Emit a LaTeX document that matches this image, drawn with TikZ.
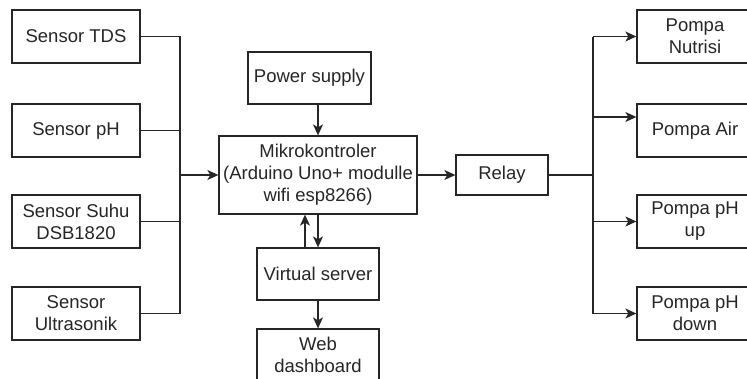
\documentclass[tikz,border=0pt]{standalone}
\usepackage{fontspec}
\setmainfont{Liberation Sans}
\usetikzlibrary{arrows.meta}
\begin{document}
\begin{tikzpicture}[x=1pt,y=-1pt,
  box/.style={draw=black!85,line width=1.3pt,align=center,inner sep=0pt,
    font=\fontsize{18.5}{22}\selectfont,text=black!85},
  conn/.style={draw=black!85,line width=1.3pt},
  arr/.style={conn,-{Stealth[length=11pt,width=10pt,inset=3pt]}}]
\useasboundingbox[fill=white] (0,0) rectangle (747,378);
\begin{scope}
\clip (0,0) rectangle (747,378);
% left sensors
\node[box,minimum width=128,minimum height=53] (tds) at (76,36.5) {Sensor TDS};
\node[box,minimum width=128,minimum height=53] (ph) at (76,130.5) {Sensor pH};
\node[box,minimum width=128,minimum height=53] (suhu) at (76,221.5) {Sensor Suhu\\DSB1820};
\node[box,minimum width=128,minimum height=53] (ultra) at (76,313.5) {Sensor\\Ultrasonik};
% center column
\node[box,minimum width=123,minimum height=52] (power) at (309.5,78) {Power supply};
\node[box,minimum width=198,minimum height=78] (mikro) at (318,175) {Mikrokontroler\\(Arduino Uno+ modulle\\wifi esp8266)};
\node[box,minimum width=122,minimum height=52] (vs) at (318,274) {Virtual server};
\node[box,minimum width=122,minimum height=52] (web) at (318,355) {Web\\dashboard};
% relay
\node[box,minimum width=92,minimum height=40] (relay) at (502,175) {Relay};
% pumps
\node[box,minimum width=116,minimum height=53] (nutrisi) at (695,36.5) {Pompa\\Nutrisi};
\node[box,minimum width=116,minimum height=53] (air) at (695,130.5) {Pompa Air};
\node[box,minimum width=116,minimum height=53] (up) at (695,221.5) {Pompa pH\\up};
\node[box,minimum width=116,minimum height=53] (down) at (695,313.5) {Pompa pH\\down};
% bus coordinates
\coordinate (lbus) at (180,175);
\coordinate (rbus) at (593,175);
% left bus
\draw[conn] (tds.east) -- (tds.east -| lbus) -- (ultra.east -| lbus) -- (ultra.east);
\draw[conn] (ph.east) -- (ph.east -| lbus);
\draw[conn] (suhu.east) -- (suhu.east -| lbus);
\draw[arr] (lbus) -- (mikro.west);
% center arrows
\draw[arr] (power.south -| mikro.north) -- (mikro.north);
\draw[arr] (mikro.south) -- (vs.north);
\draw[arr] ([xshift=-13pt]vs.north) -- ([xshift=-13pt]mikro.south);
\draw[arr] (vs.south) -- (web.north);
\draw[arr] (mikro.east) -- (relay.west);
% right bus
\draw[conn] (relay.east) -- (rbus);
\draw[conn] (nutrisi.west -| rbus) -- (down.west -| rbus);
\draw[arr] (nutrisi.west -| rbus) -- (nutrisi.west);
\draw[arr] ([yshift=13.5pt]air.west -| rbus) -- ([yshift=13.5pt]air.west);
\draw[arr] (up.west -| rbus) -- (up.west);
\draw[arr] (down.west -| rbus) -- (down.west);
\end{scope}
\end{tikzpicture}
\end{document}
